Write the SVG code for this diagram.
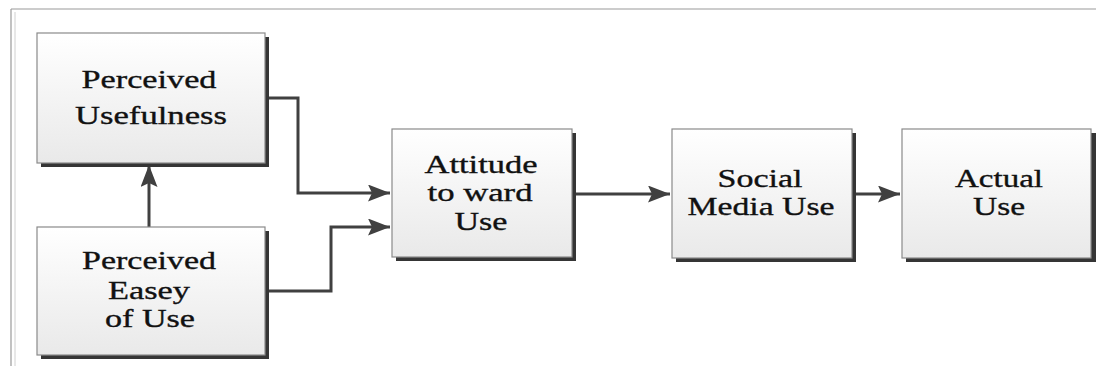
<svg xmlns="http://www.w3.org/2000/svg" width="1096" height="366" viewBox="0 0 1096 366">
<style>
.box{fill:url(#g);stroke:#8a8a8a;stroke-width:1.2}
.sh{fill:#353535}
.t{font-family:"Liberation Serif","Times New Roman",serif;font-size:26px;fill:#111;stroke:#111;stroke-width:0.35;text-anchor:middle}
.c{fill:none;stroke:#404040;stroke-width:3}
</style>
<defs>
<linearGradient id="g" x1="0" y1="0" x2="0" y2="1">
<stop offset="0" stop-color="#ffffff"/>
<stop offset="1" stop-color="#e9e9e9"/>
</linearGradient>
<marker id="a" markerUnits="userSpaceOnUse" markerWidth="23" markerHeight="17" refX="22" refY="8.5" orient="auto">
<path d="M0,0 L22,8.5 L0,17 L4,8.5 Z" fill="#404040"/>
</marker>
</defs>
<rect x="0" y="0" width="1096" height="366" fill="#fff"/>
<g id="frame" fill="none">
<path d="M11,9 H1096" stroke="#9a9a9a" stroke-width="1.2"/>
<path d="M11,9 V366" stroke="#9a9a9a" stroke-width="1.2"/>
<path d="M15,12 V366" stroke="#d0d0d0" stroke-width="1"/>
</g>
<g id="connectors">
<path class="c" d="M265,98 H298 V193 H390" marker-end="url(#a)"/>
<path class="c" d="M265,291 H331 V227 H390" marker-end="url(#a)"/>
<path class="c" d="M149,227 V165" marker-end="url(#a)"/>
<path class="c" d="M572,194 H670" marker-end="url(#a)"/>
<path class="c" d="M852,194 H900" marker-end="url(#a)"/>
</g>
<g id="perceived-usefulness">
<rect class="sh" x="41" y="37" width="228" height="130"/>
<rect class="box" x="37" y="33" width="228" height="130"/>
<text class="t" x="149" y="88" textLength="135" lengthAdjust="spacingAndGlyphs">Perceived</text>
<text class="t" x="151" y="124" textLength="152" lengthAdjust="spacingAndGlyphs">Usefulness</text>
</g>
<g id="perceived-ease">
<rect class="sh" x="41" y="231" width="228" height="128"/>
<rect class="box" x="37" y="227" width="228" height="128"/>
<text class="t" x="149" y="269" textLength="134" lengthAdjust="spacingAndGlyphs">Perceived</text>
<text class="t" x="149" y="299" textLength="82" lengthAdjust="spacingAndGlyphs">Easey</text>
<text class="t" x="150" y="327" textLength="90" lengthAdjust="spacingAndGlyphs">of Use</text>
</g>
<g id="attitude">
<rect class="sh" x="396" y="133" width="180" height="128"/>
<rect class="box" x="392" y="129" width="180" height="128"/>
<text class="t" x="481" y="173" textLength="113" lengthAdjust="spacingAndGlyphs">Attitude</text>
<text class="t" x="480" y="201" textLength="105" lengthAdjust="spacingAndGlyphs">to ward</text>
<text class="t" x="481" y="230" textLength="53" lengthAdjust="spacingAndGlyphs">Use</text>
</g>
<g id="social-media-use">
<rect class="sh" x="676" y="133" width="180" height="129"/>
<rect class="box" x="672" y="129" width="180" height="129"/>
<text class="t" x="760" y="187" textLength="85" lengthAdjust="spacingAndGlyphs">Social</text>
<text class="t" x="761" y="215" textLength="147" lengthAdjust="spacingAndGlyphs">Media Use</text>
</g>
<g id="actual-use">
<rect class="sh" x="906" y="133" width="190" height="129"/>
<rect class="box" x="902" y="129" width="189" height="129"/>
<text class="t" x="999" y="187" textLength="88" lengthAdjust="spacingAndGlyphs">Actual</text>
<text class="t" x="999" y="215" textLength="52" lengthAdjust="spacingAndGlyphs">Use</text>
</g>
</svg>
